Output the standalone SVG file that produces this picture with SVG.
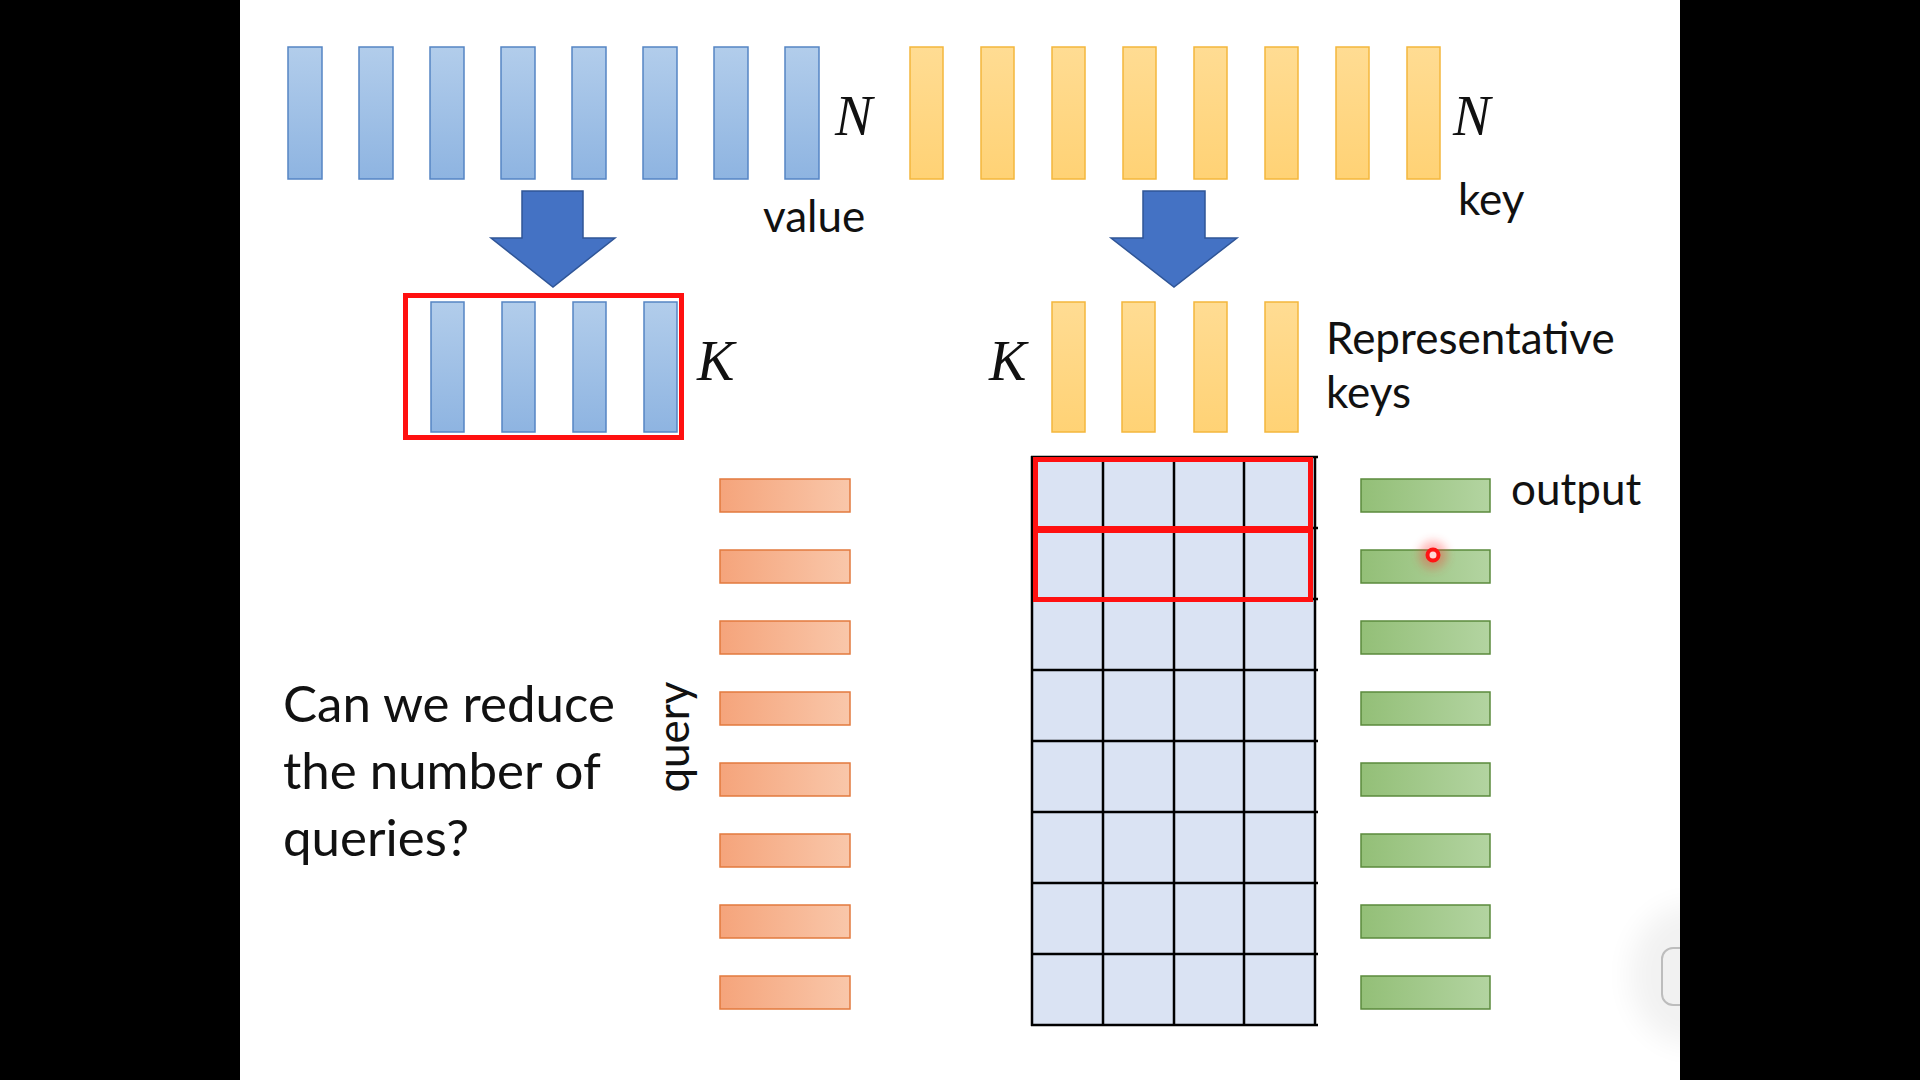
<svg xmlns="http://www.w3.org/2000/svg" width="1920" height="1080" viewBox="0 0 1920 1080">
  <defs>
    <linearGradient id="gBlue" x1="0" y1="0" x2="0" y2="1">
      <stop offset="0" stop-color="#B2CDEB"/>
      <stop offset="1" stop-color="#8EB4E1"/>
    </linearGradient>
    <linearGradient id="gYellow" x1="0" y1="0" x2="0" y2="1">
      <stop offset="0" stop-color="#FFDC93"/>
      <stop offset="1" stop-color="#FFD275"/>
    </linearGradient>
    <linearGradient id="gOrange" x1="0" y1="0" x2="1" y2="0">
      <stop offset="0" stop-color="#F5A47B"/>
      <stop offset="1" stop-color="#F9C7AA"/>
    </linearGradient>
    <linearGradient id="gGreen" x1="0" y1="0" x2="1" y2="0">
      <stop offset="0" stop-color="#93BF77"/>
      <stop offset="1" stop-color="#B3D4A1"/>
    </linearGradient>
    <filter id="blur" x="-1" y="-1" width="3" height="3">
      <feGaussianBlur stdDeviation="5"/>
    </filter>
    <filter id="blur2" x="-1" y="-1" width="3" height="3">
      <feGaussianBlur stdDeviation="14"/>
    </filter>
    <style>
      .vb { fill: url(#gBlue); stroke: #5585C4; stroke-width: 1.5; }
      .kb { fill: url(#gYellow); stroke: #F4B73C; stroke-width: 1.5; }
      .qb { fill: url(#gOrange); stroke: #E27A3E; stroke-width: 1.5; }
      .ob { fill: url(#gGreen); stroke: #5B8A3C; stroke-width: 1.5; }
      .arrow { fill: #4472C4; stroke: #2F5597; stroke-width: 1.5; }
      .lbl { font-family: Lato, "Open Sans", sans-serif; font-size: 44px; fill: #111; }
      .q { font-family: Lato, "Open Sans", sans-serif; font-size: 51px; fill: #111; }
      .math { font-family: "Liberation Serif", "DejaVu Serif", serif; font-style: italic; font-size: 56px; fill: #111; }
      .cell { fill: #DAE3F3; stroke: none; }
      .gl { stroke: #000; stroke-width: 2.5; }
      .sel { fill: none; stroke: #FF1010; stroke-width: 5; }
    </style>
  </defs>

  <rect x="0" y="0" width="1920" height="1080" fill="#000"/>
  <rect x="240" y="0" width="1440" height="1080" fill="#FFF"/>

  <g id="values-N">
    <rect class="vb" x="288" y="47" width="34" height="132"/>
    <rect class="vb" x="359" y="47" width="34" height="132"/>
    <rect class="vb" x="430" y="47" width="34" height="132"/>
    <rect class="vb" x="501" y="47" width="34" height="132"/>
    <rect class="vb" x="572" y="47" width="34" height="132"/>
    <rect class="vb" x="643" y="47" width="34" height="132"/>
    <rect class="vb" x="714" y="47" width="34" height="132"/>
    <rect class="vb" x="785" y="47" width="34" height="132"/>
    <text class="math" x="835" y="135">N</text>
    <text class="lbl" x="763" y="232">value</text>
  </g>

  <g id="keys-N">
    <rect class="kb" x="910" y="47" width="33" height="132"/>
    <rect class="kb" x="981" y="47" width="33" height="132"/>
    <rect class="kb" x="1052" y="47" width="33" height="132"/>
    <rect class="kb" x="1123" y="47" width="33" height="132"/>
    <rect class="kb" x="1194" y="47" width="33" height="132"/>
    <rect class="kb" x="1265" y="47" width="33" height="132"/>
    <rect class="kb" x="1336" y="47" width="33" height="132"/>
    <rect class="kb" x="1407" y="47" width="33" height="132"/>
    <text class="math" x="1453" y="135">N</text>
    <text class="lbl" x="1458" y="215">key</text>
  </g>

  <g id="values-K">
    <rect class="vb" x="431" y="302" width="33" height="130"/>
    <rect class="vb" x="502" y="302" width="33" height="130"/>
    <rect class="vb" x="573" y="302" width="33" height="130"/>
    <rect class="vb" x="644" y="302" width="33" height="130"/>
    <rect class="sel" x="405.5" y="295.5" width="276" height="142"/>
    <text class="math" x="697" y="380">K</text>
  </g>

  <g id="keys-K">
    <rect class="kb" x="1052" y="302" width="33" height="130"/>
    <rect class="kb" x="1122" y="302" width="33" height="130"/>
    <rect class="kb" x="1194" y="302" width="33" height="130"/>
    <rect class="kb" x="1265" y="302" width="33" height="130"/>
    <text class="math" x="989" y="380">K</text>
    <text class="lbl" x="1326" y="354">Representative</text>
    <text class="lbl" x="1326" y="408">keys</text>
  </g>

  <g id="queries">
    <rect class="qb" x="720" y="479" width="130" height="33"/>
    <rect class="qb" x="720" y="550" width="130" height="33"/>
    <rect class="qb" x="720" y="621" width="130" height="33"/>
    <rect class="qb" x="720" y="692" width="130" height="33"/>
    <rect class="qb" x="720" y="763" width="130" height="33"/>
    <rect class="qb" x="720" y="834" width="130" height="33"/>
    <rect class="qb" x="720" y="905" width="130" height="33"/>
    <rect class="qb" x="720" y="976" width="130" height="33"/>
    <text class="lbl" transform="translate(689 737) rotate(-90)" text-anchor="middle">query</text>
  </g>

  <g id="attention-grid">
    <rect class="cell" x="1032" y="457" width="283" height="568"/>
    <g class="gl">
      <line x1="1032" y1="456" x2="1032" y2="1026"/>
      <line x1="1103" y1="456" x2="1103" y2="1026"/>
      <line x1="1174" y1="456" x2="1174" y2="1026"/>
      <line x1="1244" y1="456" x2="1244" y2="1026"/>
      <line x1="1315" y1="456" x2="1315" y2="1026"/>
      <line x1="1031" y1="457" x2="1318" y2="457"/>
      <line x1="1031" y1="528" x2="1318" y2="528"/>
      <line x1="1031" y1="599" x2="1318" y2="599"/>
      <line x1="1031" y1="670" x2="1318" y2="670"/>
      <line x1="1031" y1="741" x2="1318" y2="741"/>
      <line x1="1031" y1="812" x2="1318" y2="812"/>
      <line x1="1031" y1="883" x2="1318" y2="883"/>
      <line x1="1031" y1="954" x2="1318" y2="954"/>
      <line x1="1031" y1="1025" x2="1318" y2="1025"/>
    </g>
    <rect class="sel" x="1035.5" y="459.5" width="275" height="71"/>
    <rect class="sel" x="1035.5" y="528.5" width="275" height="71"/>
  </g>

  <g id="outputs">
    <rect class="ob" x="1361" y="479" width="129" height="33"/>
    <rect class="ob" x="1361" y="550" width="129" height="33"/>
    <rect class="ob" x="1361" y="621" width="129" height="33"/>
    <rect class="ob" x="1361" y="692" width="129" height="33"/>
    <rect class="ob" x="1361" y="763" width="129" height="33"/>
    <rect class="ob" x="1361" y="834" width="129" height="33"/>
    <rect class="ob" x="1361" y="905" width="129" height="33"/>
    <rect class="ob" x="1361" y="976" width="129" height="33"/>
    <text class="lbl" x="1511" y="505">output</text>
  </g>

  <g id="question">
    <text class="q" x="283" y="722">Can we reduce</text>
    <text class="q" x="283" y="789">the number of</text>
    <text class="q" x="283" y="856">queries?</text>
  </g>

  <g id="connectors">
    <path class="arrow" d="M522,191 H583 V238 H615 L553,287 L491,238 H522 Z"/>
    <path class="arrow" d="M1143,191 H1205 V238 H1237 L1174,287 L1111,238 H1143 Z"/>
  </g>

  <g id="pointer">
    <circle cx="1433" cy="555" r="14" fill="#FF3030" opacity="0.35" filter="url(#blur)"/>
    <circle cx="1433" cy="555" r="5.5" fill="#FFD8D8" stroke="#FF1414" stroke-width="4"/>
  </g>

  <g id="corner-widget">
    <ellipse cx="1690" cy="975" rx="60" ry="70" fill="#000" opacity="0.05" filter="url(#blur2)"/>
    <rect x="1662" y="948" width="40" height="57" rx="11" fill="#F1F1F1" stroke="#BDBDBD" stroke-width="2"/>
  </g>

  <rect x="1680" y="0" width="240" height="1080" fill="#000"/>
</svg>
